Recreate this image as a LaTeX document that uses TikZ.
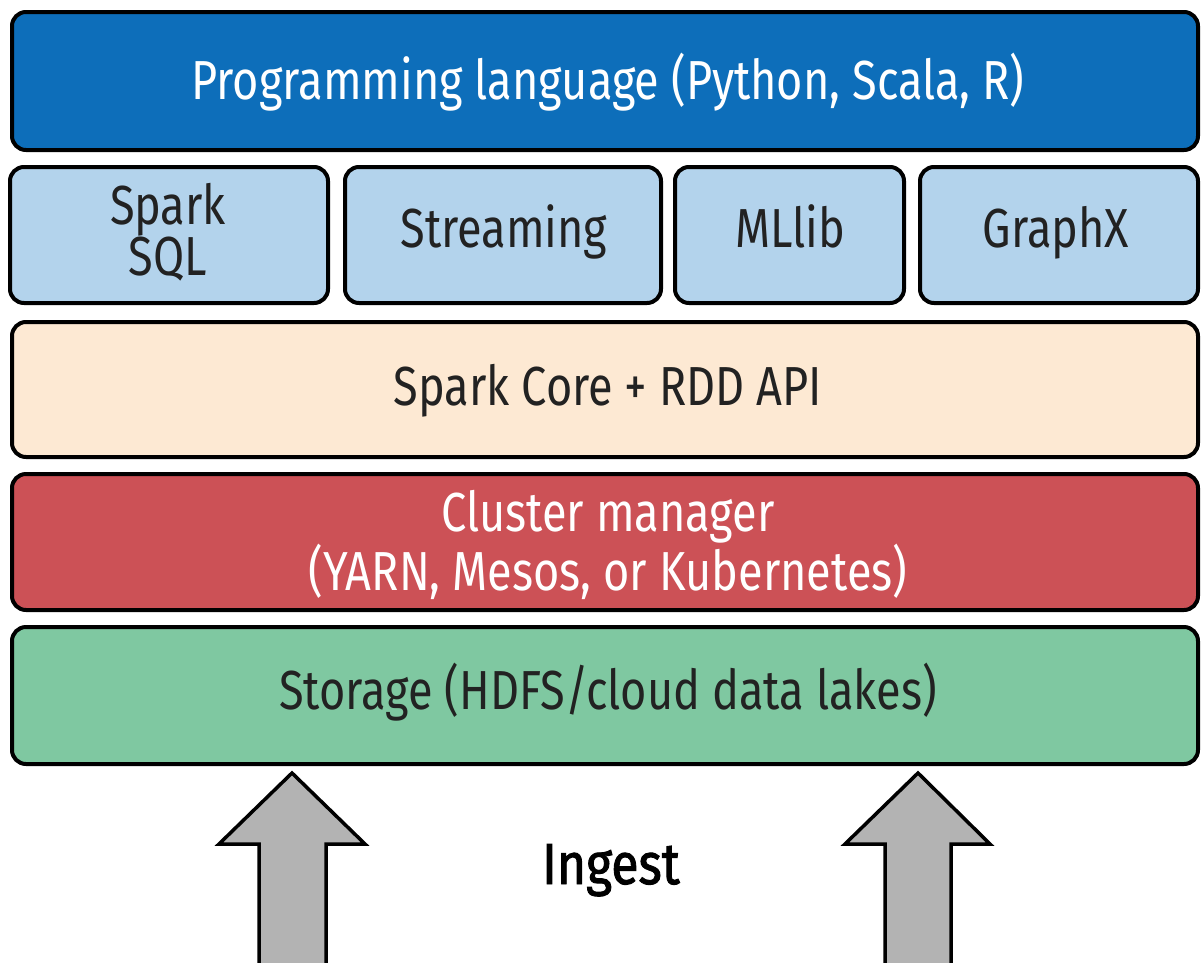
\documentclass[tikz,border=0pt]{standalone}
\usepackage{fontspec}
\setmainfont{Fira Sans}[FakeStretch=0.82]
\newfontfamily\ingestfont{Fira Sans}[FakeStretch=0.86, FakeBold=1.6]
\definecolor{langblue}{HTML}{0D6EBA}
\definecolor{libblue}{HTML}{B3D3EC}
\definecolor{corebeige}{HTML}{FDE9D3}
\definecolor{clusterred}{HTML}{CC5156}
\definecolor{storegreen}{HTML}{7FC8A1}
\definecolor{arrowgray}{HTML}{B3B3B3}
\definecolor{textdark}{HTML}{222222}
\tikzset{
  layer/.style={draw=black, line width=4pt, rounded corners=14pt},
  lbl/.style={font=\fontsize{55}{50}\selectfont, align=center, text=textdark, inner sep=0pt},
  lblw/.style={lbl, text=white},
  ingestarrow/.style={draw=black, line width=3.5pt, fill=arrowgray, line join=miter},
}
\begin{document}
\begin{tikzpicture}[x=1pt,y=-1pt]
\useasboundingbox (0,0) rectangle (1203,962);
\begin{scope}
\clip (0,0) rectangle (1203,962);
% boxes
\draw[layer, fill=langblue] (12,12) rectangle (1198,150);
\draw[layer, fill=libblue] (10,167) rectangle (328,303);
\draw[layer, fill=libblue] (345,167) rectangle (661,303);
\draw[layer, fill=libblue] (675,167) rectangle (904,303);
\draw[layer, fill=libblue] (920,167) rectangle (1198,303);
\draw[layer, fill=corebeige] (12,322) rectangle (1198,457);
\draw[layer, fill=clusterred] (12,474) rectangle (1198,610);
\draw[layer, fill=storegreen] (12,627) rectangle (1198,764);
% labels
\node[lblw, anchor=base] (lang) at (608,99) {Programming language (Python, Scala, R)};
\node[lbl] (sql) at (168,232) {Spark\\SQL};
\node[lbl, anchor=base] (stream) at (504,247) {Streaming};
\node[lbl, anchor=base] (mllib) at (790,247) {MLlib};
\node[lbl, anchor=base] (graphx) at (1056,247) {GraphX};
\node[lbl, anchor=base] (core) at (608,405) {Spark Core + RDD API};
\node[lblw] (cluster) at (608,545) {Cluster manager\\(YARN, Mesos, or Kubernetes)};
\node[lbl, anchor=base] (storage) at (608,709) {Storage (HDFS/cloud data lakes)};
\node[lbl, font=\fontsize{58}{58}\ingestfont, text=black, anchor=base] (ingest) at (611,884) {Ingest};
% arrows
\draw[ingestarrow] (292,773) -- (219,844) -- (259,844) -- (259,975) -- (326,975) -- (326,844) -- (365,844) -- cycle;
\draw[ingestarrow] (918,773) -- (845,844) -- (885,844) -- (885,975) -- (951,975) -- (951,844) -- (990,844) -- cycle;
\end{scope}
\end{tikzpicture}
\end{document}
